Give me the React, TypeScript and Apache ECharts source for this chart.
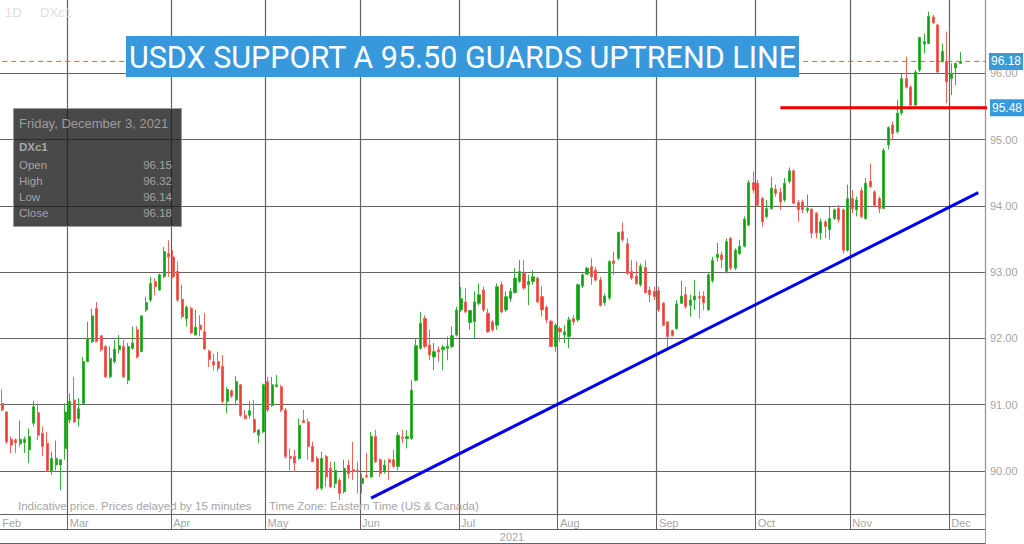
import React, { useEffect, useRef } from 'react';
import * as echarts from 'echarts';

// ---- Daily OHLC of DXc1 (US Dollar Index), 8 Feb 2021 – 3 Dec 2021 ----
const opens = [
  91.02, 90.89, 90.48, 90.47, 90.41, 90.43, 90.32, 90.72, 90.88, 90.57,
  90.42, 89.99, 90.09, 90.09, 90.34, 90.77, 91.07, 90.79, 91.02, 91.65,
  91.95, 92.45, 92.04, 91.88, 91.42, 91.65, 91.83, 91.88, 91.37, 91.85,
  92.13, 91.80, 92.43, 92.58, 92.86, 92.73, 92.93, 93.28, 93.23, 93.01,
  92.59, 92.30, 92.45, 92.05, 92.20, 92.10, 91.81, 91.65, 91.65, 91.58,
  91.05, 91.21, 91.07, 91.30, 90.84, 90.84, 90.78, 90.54, 90.59, 91.35,
  90.99, 91.27, 91.27, 90.92, 90.22, 90.22, 90.19, 90.76, 90.74, 90.37,
  90.19, 89.74, 90.22, 90.04, 89.81, 89.86, 89.69, 90.09, 90.02, 90.01,
  89.81, 89.93, 89.91, 90.52, 90.17, 89.99, 90.17, 90.17, 90.07, 90.51,
  90.49, 90.49, 91.37, 91.85, 92.30, 91.90, 91.72, 91.83, 91.83, 91.85,
  91.88, 92.05, 92.43, 92.55, 92.24, 92.25, 92.53, 92.73, 92.38, 92.25,
  92.20, 92.81, 92.43, 92.60, 92.69, 92.86, 92.98, 92.81, 92.86, 92.91,
  92.63, 92.47, 92.26, 91.88, 92.15, 92.05, 92.03, 92.30, 92.28, 92.79,
  92.97, 93.08, 93.03, 92.88, 92.54, 92.61, 93.17, 93.21, 93.61, 93.43,
  93.01, 92.94, 92.81, 93.07, 92.73, 92.71, 92.72, 92.53, 92.25, 92.12,
  92.15, 92.53, 92.66, 92.50, 92.58, 92.63, 92.64, 92.43, 92.87, 93.22,
  93.26, 93.01, 93.51, 93.06, 93.28, 93.39, 93.71, 94.35, 94.34, 94.11,
  93.84, 93.96, 94.25, 94.20, 94.09, 94.37, 94.53, 94.05, 94.06, 93.93,
  93.95, 93.89, 93.59, 93.76, 93.64, 93.81, 93.96, 93.94, 93.33, 94.11,
  93.94, 94.23, 93.81, 94.37, 94.21, 94.11, 93.96, 94.92, 95.22, 95.12,
  95.40, 95.92, 95.79, 95.52, 96.05, 96.44, 96.45, 96.85, 96.73, 96.18,
  96.18, 95.92, 96.08, 96.15,
];
const closes = [
  90.92, 90.44, 90.39, 90.43, 90.48, 90.48, 90.52, 90.97, 90.54, 90.37,
  90.01, 90.19, 90.19, 90.17, 90.89, 91.05, 90.74, 90.94, 91.65, 92.00,
  92.34, 91.95, 91.83, 91.42, 91.70, 91.84, 91.89, 91.42, 91.88, 91.93,
  91.72, 92.34, 92.54, 92.83, 92.78, 92.96, 93.31, 93.23, 92.93, 92.58,
  92.33, 92.47, 92.08, 92.17, 92.13, 91.84, 91.68, 91.60, 91.55, 91.05,
  91.23, 91.13, 91.35, 90.84, 90.79, 90.91, 90.59, 90.62, 91.30, 90.92,
  91.30, 91.30, 90.92, 90.22, 90.19, 90.12, 90.69, 90.73, 90.37, 90.14,
  89.74, 90.19, 89.91, 89.76, 90.01, 89.66, 90.04, 89.96, 89.99, 89.99,
  89.89, 89.91, 90.52, 90.14, 89.96, 90.09, 90.13, 90.07, 90.54, 90.49,
  90.52, 91.22, 91.89, 92.23, 91.88, 91.75, 91.80, 91.80, 91.87, 91.88,
  92.04, 92.43, 92.60, 92.40, 92.42, 92.55, 92.66, 92.43, 92.10, 92.13,
  92.78, 92.40, 92.63, 92.71, 92.91, 93.01, 92.76, 92.86, 92.93, 92.55,
  92.43, 92.28, 91.88, 92.20, 92.10, 92.10, 92.28, 92.25, 92.81, 92.96,
  93.06, 92.93, 92.88, 92.50, 92.64, 93.16, 93.13, 93.60, 93.49, 92.98,
  92.91, 92.83, 93.09, 92.69, 92.66, 92.63, 92.43, 92.20, 92.03, 92.04,
  92.52, 92.64, 92.48, 92.58, 92.64, 92.61, 92.54, 92.96, 93.18, 93.27,
  93.19, 93.46, 93.06, 93.33, 93.39, 93.80, 94.35, 94.24, 94.01, 93.76,
  93.96, 94.27, 94.19, 94.06, 94.34, 94.53, 94.04, 93.94, 93.94, 93.96,
  93.59, 93.59, 93.76, 93.69, 93.81, 93.94, 93.79, 93.33, 94.11, 93.96,
  94.09, 93.84, 94.34, 94.29, 94.01, 93.96, 94.84, 95.18, 95.09, 95.40,
  95.92, 95.79, 95.52, 96.02, 96.54, 96.48, 96.86, 96.76, 96.02, 96.33,
  95.87, 96.00, 96.15, 96.18,
];
const lows = [
  90.90, 90.41, 90.27, 90.27, 90.37, 90.27, 90.12, 90.67, 90.47, 90.22,
  89.99, 89.94, 90.01, 89.71, 90.17, 90.72, 90.72, 90.67, 91.02, 91.65,
  91.93, 91.95, 91.80, 91.40, 91.40, 91.62, 91.77, 91.40, 91.31, 91.83,
  91.70, 91.80, 92.40, 92.55, 92.65, 92.72, 92.91, 92.93, 92.91, 92.55,
  92.30, 92.18, 92.07, 92.05, 92.03, 91.83, 91.57, 91.52, 91.50, 91.02,
  90.87, 91.10, 90.99, 90.82, 90.78, 90.79, 90.57, 90.42, 90.57, 90.89,
  90.97, 91.27, 90.89, 90.19, 90.01, 89.99, 90.17, 90.72, 90.17, 90.14,
  89.71, 89.71, 89.76, 89.74, 89.74, 89.56, 89.66, 89.89, 89.86, 89.66,
  89.66, 89.89, 89.90, 90.12, 89.91, 89.96, 89.86, 90.04, 90.01, 90.42,
  90.34, 90.47, 91.35, 91.83, 91.85, 91.67, 91.52, 91.65, 91.52, 91.67,
  91.85, 92.03, 92.40, 92.38, 92.13, 92.00, 92.50, 92.40, 92.08, 92.10,
  92.13, 92.38, 92.40, 92.55, 92.68, 92.84, 92.73, 92.50, 92.81, 92.53,
  92.33, 92.23, 91.87, 91.80, 91.95, 91.93, 91.85, 92.20, 92.25, 92.76,
  92.96, 92.81, 92.86, 92.48, 92.50, 92.58, 92.96, 93.18, 93.46, 92.96,
  92.88, 92.81, 92.78, 92.68, 92.55, 92.58, 92.40, 92.18, 91.85, 92.03,
  92.13, 92.52, 92.45, 92.33, 92.43, 92.30, 92.43, 92.42, 92.84, 93.16,
  93.06, 92.98, 93.03, 93.03, 93.26, 93.37, 93.69, 94.19, 93.99, 93.69,
  93.81, 93.94, 94.14, 93.94, 94.06, 94.34, 94.03, 93.76, 93.89, 93.89,
  93.51, 93.51, 93.49, 93.51, 93.49, 93.79, 93.75, 93.28, 93.31, 93.89,
  93.84, 93.81, 93.79, 94.27, 93.99, 93.89, 93.95, 94.85, 94.99, 95.09,
  95.37, 95.77, 95.51, 95.51, 96.02, 96.30, 96.44, 96.75, 96.00, 96.16,
  95.55, 95.67, 95.82, 96.14,
];
const highs = [
  91.23, 90.90, 90.52, 90.49, 90.76, 90.52, 90.64, 91.06, 91.02, 90.67,
  90.59, 90.29, 90.46, 90.17, 91.02, 91.17, 91.42, 91.10, 91.72, 92.25,
  92.45, 92.55, 92.04, 91.90, 91.88, 91.98, 92.05, 91.98, 91.93, 92.18,
  92.18, 92.35, 92.63, 92.93, 92.91, 92.98, 93.38, 93.48, 93.33, 93.16,
  92.81, 92.50, 92.48, 92.43, 92.35, 92.38, 91.83, 91.77, 91.80, 91.75,
  91.27, 91.23, 91.43, 91.31, 90.92, 91.05, 91.07, 90.62, 91.32, 91.42,
  91.42, 91.45, 91.30, 90.95, 90.34, 90.32, 90.79, 90.92, 90.79, 90.44,
  90.22, 90.29, 90.24, 90.14, 90.14, 89.89, 90.17, 90.17, 90.44, 90.14,
  89.96, 90.27, 90.59, 90.62, 90.19, 90.17, 90.19, 90.32, 90.59, 90.62,
  90.62, 91.37, 92.00, 92.40, 92.35, 92.13, 91.93, 91.88, 91.90, 92.03,
  92.18, 92.48, 92.78, 92.76, 92.42, 92.71, 92.83, 92.78, 92.45, 92.28,
  92.83, 92.86, 92.71, 92.76, 93.06, 93.18, 93.18, 92.96, 93.03, 92.93,
  92.79, 92.50, 92.28, 92.23, 92.18, 92.20, 92.33, 92.35, 92.83, 92.98,
  93.08, 93.21, 93.08, 92.93, 92.68, 93.18, 93.31, 93.61, 93.75, 93.51,
  93.18, 93.16, 93.13, 93.18, 92.78, 92.78, 92.78, 92.55, 92.26, 92.13,
  92.58, 92.87, 92.78, 92.66, 92.88, 92.71, 92.71, 92.98, 93.23, 93.44,
  93.31, 93.51, 93.53, 93.36, 93.49, 93.84, 94.39, 94.52, 94.39, 94.14,
  94.09, 94.44, 94.32, 94.27, 94.42, 94.58, 94.55, 94.09, 94.09, 94.17,
  93.96, 93.91, 93.81, 93.79, 93.99, 93.96, 94.01, 93.96, 94.32, 94.24,
  94.14, 94.28, 94.42, 94.64, 94.24, 94.14, 94.87, 95.20, 95.27, 95.60,
  95.99, 96.25, 95.82, 96.05, 96.55, 96.60, 96.93, 96.88, 96.75, 96.45,
  96.63, 96.15, 96.16, 96.32,
];

// ---- calendar ----
const firstDay = [2021, 1, 8];   // 8 Feb 2021 (month 0-based)
const lastDay = [2021, 11, 3];   // 3 Dec 2021
const skippedDays = ['2021-04-02'];
const emptySlots = 5;
const monthNames = ['Jan', 'Feb', 'Mar', 'Apr', 'May', 'Jun', 'Jul', 'Aug', 'Sep', 'Oct', 'Nov', 'Dec'];
const yearLabel = '2021';

// ---- price axis ----
const yMin = 89.351;
const yMax = 97.106;
const yTicks = [90, 91, 92, 93, 94, 95, 96];

// ---- annotations ----
const lastPrice = 96.18;
const supportLevel = 95.48;
const supportFromIndex = 172.5;
const trendLine = [[81.6, 89.59], [217.2, 94.2]];
const titleText = 'USDX SUPPORT A 95.50 GUARDS UPTREND LINE';
const symbolName = 'DXc1';
const periodName = '1D';
const infoDate = 'Friday, December 3, 2021';
const infoLabels = ['Open', 'High', 'Low', 'Close'];
const infoValues = ['96.15', '96.32', '96.14', '96.18'];
const footerLeft = 'Indicative price. Prices delayed by 15 minutes';
const footerRight = 'Time Zone: Eastern Time (US & Canada)';

const SANS = '"Liberation Sans", Arial, sans-serif';
const GRID = '#636363';
const AXISTXT = '#a6a6a6';

function tradingDays(): string[] {
  const out: string[] = [];
  const d = new Date(Date.UTC(firstDay[0], firstDay[1], firstDay[2]));
  const end = Date.UTC(lastDay[0], lastDay[1], lastDay[2]);
  while (d.getTime() <= end) {
    const wd = d.getUTCDay();
    const s = d.toISOString().slice(0, 10);
    if (wd !== 0 && wd !== 6 && skippedDays.indexOf(s) < 0) out.push(s);
    d.setUTCDate(d.getUTCDate() + 1);
  }
  return out;
}

export default function App() {
  const ref = useRef<HTMLDivElement>(null);
  useEffect(() => {
    const el = ref.current!;
    const chart = echarts.init(el, null, { renderer: 'svg' });
    const days = tradingDays();
    const categories = days.concat(Array.from({ length: emptySlots }, (_, i) => `slot${i}`));
    const isMonthStart = (i: number) =>
      i > 0 && i < days.length && days[i].slice(5, 7) !== days[i - 1].slice(5, 7);
    const candles = opens.map((o, i) => [o, closes[i], lows[i], highs[i]]);
    const rightEnd = categories.length - 0.5;

    const W = 1024;
    const plotRight = 985;
    const plotBottom = 514;

    const option: any = {
      animation: false,
      backgroundColor: '#ffffff',
      grid: { left: 0, right: W - plotRight, top: 0, bottom: 544 - plotBottom, containLabel: false, outerBoundsMode: 'none' },
      xAxis: {
        type: 'category',
        data: categories,
        boundaryGap: true,
        axisLine: { show: true, lineStyle: { color: GRID, width: 1 } },
        axisTick: { show: true, interval: (i: number) => isMonthStart(i), length: 15, lineStyle: { color: GRID, width: 1 } },
        splitLine: { show: true, interval: (i: number) => isMonthStart(i), lineStyle: { color: GRID, width: 1.2 } },
        axisLabel: {
          interval: (i: number) => i === 0 || isMonthStart(i),
          formatter: (v: string) => (v.startsWith('slot') ? '' : monthNames[parseInt(v.slice(5, 7), 10) - 1]),
          align: 'left',
          margin: 3,
          color: AXISTXT,
          fontSize: 11,
          fontFamily: SANS,
        },
      },
      yAxis: {
        type: 'value',
        position: 'right',
        min: yMin,
        max: yMax,
        axisLine: { show: true, lineStyle: { color: '#999999', width: 1 } },
        axisTick: { show: false, customValues: yTicks },
        splitLine: { show: true, lineStyle: { color: GRID, width: 1.2 } },
        axisLabel: {
          customValues: yTicks,
          formatter: (v: number) => v.toFixed(2),
          color: AXISTXT,
          fontSize: 11,
          fontFamily: SANS,
          margin: 5,
        },
      },
      series: [
        {
          type: 'candlestick',
          data: candles,
          barWidth: 2.6,
          silent: true,
          itemStyle: {
            color: '#0ea00e',
            color0: '#ef3e34',
            borderColor: '#34b334',
            borderColor0: '#f0625a',
            borderWidth: 1,
          },
          z: 3,
        },
        {
          type: 'line',
          data: [[-0.5, lastPrice], [rightEnd, lastPrice]],
          symbol: 'none',
          silent: true,
          lineStyle: { color: '#ff4d4d', width: 1, type: [5, 4] },
          endLabel: {
            show: true,
            formatter: lastPrice.toFixed(2),
            color: '#ffffff',
            backgroundColor: '#3a9ad9',
            padding: [3, 2, 2, 2],
            fontSize: 12,
            fontFamily: SANS,
            distance: 3,
          },
          z: 4,
        },
        {
          type: 'line',
          data: [[supportFromIndex, supportLevel], [rightEnd, supportLevel]],
          symbol: 'none',
          silent: true,
          lineStyle: { color: '#ee0000', width: 3 },
          endLabel: {
            show: true,
            formatter: supportLevel.toFixed(2),
            color: '#ffffff',
            backgroundColor: '#3a9ad9',
            padding: [3, 2, 2, 2],
            fontSize: 12,
            fontFamily: SANS,
            distance: 3,
          },
          z: 5,
        },
        {
          type: 'line',
          data: trendLine,
          symbol: 'none',
          silent: true,
          lineStyle: { color: '#0000ee', width: 3 },
          z: 5,
        },
      ],
      graphic: [
        { type: 'text', x: 5, y: 12, z: 10, style: { text: periodName, fill: '#dedede', fontSize: 13, fontFamily: SANS, verticalAlign: 'middle' } },
        { type: 'text', x: 40, y: 12, z: 10, style: { text: symbolName, fill: '#dedede', fontSize: 13, fontFamily: SANS, verticalAlign: 'middle' } },
        { type: 'rect', z: 10, shape: { x: 126, y: 36, width: 673, height: 41 }, style: { fill: '#3799db' } },
        { type: 'text', x: 462.5, y: 57, z: 11, style: { text: titleText, fill: '#ffffff', fontSize: 30.5, fontFamily: 'Roboto', align: 'center', verticalAlign: 'middle' } },
        { type: 'rect', z: 10, shape: { x: 13.5, y: 108.5, width: 168, height: 118 }, style: { fill: 'rgba(28,28,28,0.8)', stroke: '#9a9a9a', lineWidth: 1 } },
        { type: 'text', x: 19, y: 123, z: 11, style: { text: infoDate, fill: '#9c9c9c', fontSize: 13, fontFamily: SANS, verticalAlign: 'middle' } },
        { type: 'text', x: 19, y: 147, z: 11, style: { text: symbolName, fill: '#a8a8a8', fontSize: 11.5, fontWeight: 'bold', fontFamily: SANS, verticalAlign: 'middle' } },
        ...infoLabels.map((t, i) => ({ type: 'text', x: 19, y: 165 + i * 16, z: 11, style: { text: t, fill: '#a3a3a3', fontSize: 11.5, fontFamily: SANS, verticalAlign: 'middle' } })),
        ...infoValues.map((t, i) => ({ type: 'text', x: 172, y: 165 + i * 16, z: 11, style: { text: t, fill: '#a3a3a3', fontSize: 11.5, fontFamily: SANS, align: 'right', verticalAlign: 'middle' } })),
        { type: 'text', x: 18, y: 506, z: 10, style: { text: footerLeft, fill: '#a6a6a6', fontSize: 11.5, fontFamily: SANS, verticalAlign: 'middle' } },
        { type: 'text', x: 269, y: 506, z: 10, style: { text: footerRight, fill: '#a6a6a6', fontSize: 11.5, fontFamily: SANS, verticalAlign: 'middle' } },
        { type: 'line', z: 10, shape: { x1: 0, y1: 529.5, x2: plotRight, y2: 529.5 }, style: { stroke: GRID, lineWidth: 1 } },
        { type: 'line', z: 10, shape: { x1: 0, y1: 543.5, x2: plotRight, y2: 543.5 }, style: { stroke: GRID, lineWidth: 1 } },
        { type: 'line', z: 10, shape: { x1: plotRight + 0.5, y1: plotBottom, x2: plotRight + 0.5, y2: 544 }, style: { stroke: '#999999', lineWidth: 1 } },
        { type: 'text', x: 512, y: 536.5, z: 10, style: { text: yearLabel, fill: '#a6a6a6', fontSize: 11, fontFamily: SANS, align: 'center', verticalAlign: 'middle' } },
      ],
    };
    chart.setOption(option);
    return () => chart.dispose();
  }, []);
  return (
    <div
      ref={ref}
      style={{ position: 'fixed', left: 0, top: 0, width: 1024, height: 544, background: '#ffffff' }}
    />
  );
}
